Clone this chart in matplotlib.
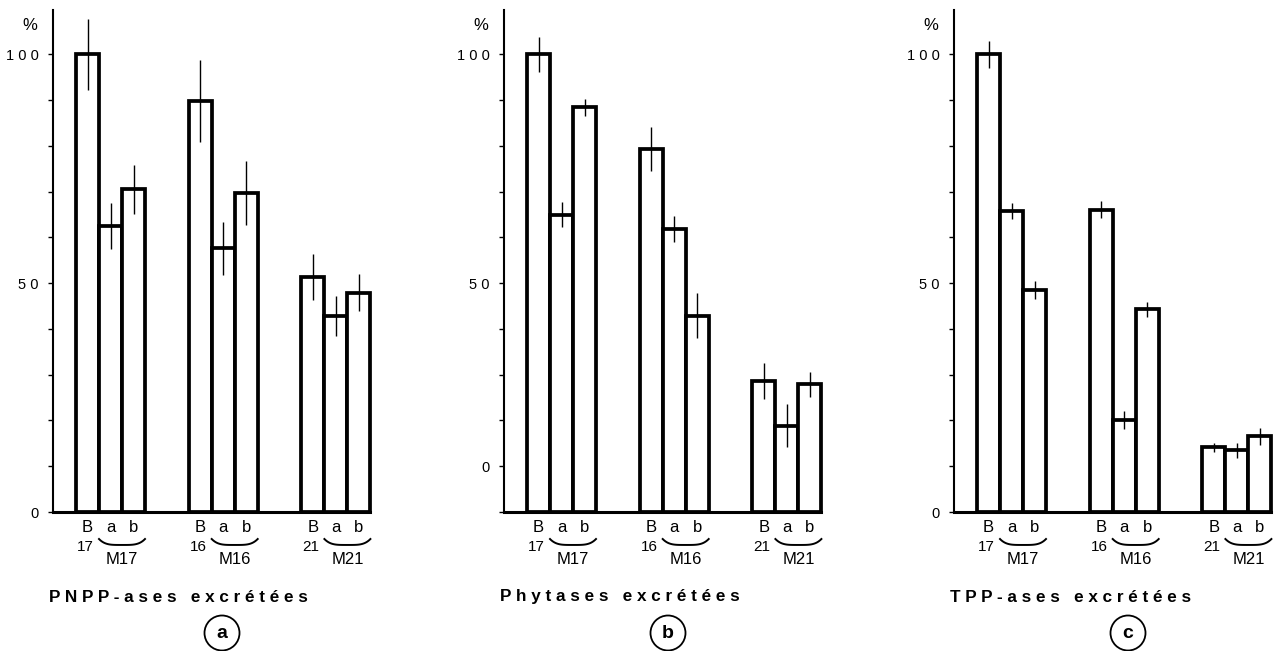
import numpy as np
import matplotlib
matplotlib.use("Agg")
import matplotlib.pyplot as plt
from matplotlib.patches import Ellipse

plt.rcParams['font.family'] = ['Liberation Sans', 'DejaVu Sans']

# data (% of the B17 control)
groups = ['17', '16', '21']
bars = ['B', 'a', 'b']

pnpp_vals = [100, 62.5, 70.5, 89.8, 57.6, 69.8, 51.4, 42.9, 47.9]
pnpp_err = [7.8, 5.0, 5.3, 9.0, 5.8, 7.0, 5.0, 4.4, 4.0]

phyt_vals = [100, 65.0, 88.4, 79.3, 61.8, 42.9, 28.6, 18.9, 27.9]
phyt_err = [3.9, 2.8, 1.9, 4.8, 2.9, 4.9, 4.0, 4.8, 2.8]

tpp_vals = [100, 65.8, 48.5, 66.1, 20.1, 44.3, 14.1, 13.5, 16.5]
tpp_err = [2.9, 1.8, 1.9, 1.8, 1.9, 1.6, 1.0, 1.6, 1.9]

# tick labels (panel b has its "0" written at the first tick above the base)
labels_std = {0: '0', 50: '5 0', 100: '1 0 0'}
labels_phyt = {10: '0', 50: '5 0', 100: '1 0 0'}

W, H = 1282, 651
fig = plt.figure(figsize=(W / 100, H / 100), dpi=100)
PT = 0.72  # points per pixel at dpi 100


def panel(left, vals, errs, labels, title, letter, circ_dx):
    ax = fig.add_axes([left / W, 139 / H, 317.4 / W, 502 / H])
    xs = [1.5 + g * 4.9 + k for g in range(len(groups)) for k in range(len(bars))]
    bc = ax.bar(xs, vals, width=1.0, color='white', edgecolor='black',
                linewidth=2.7, zorder=2)
    for p in bc:
        p.set_clip_on(False)
    ax.errorbar(xs, vals, yerr=errs, fmt='none', ecolor='black',
                elinewidth=1.0, capsize=0, zorder=3)
    ax.set_xlim(0, 13.8)
    ax.set_ylim(0, 109.7)
    ax.spines['top'].set_visible(False)
    ax.spines['right'].set_visible(False)
    ax.spines['left'].set_linewidth(1.5)
    ax.spines['bottom'].set_linewidth(2.2)
    ax.set_xticks([])
    ticks = np.arange(0, 101, 10)
    ax.set_yticks(ticks)
    ax.set_yticklabels([labels.get(t, '') for t in ticks], fontsize=10.5)
    ax.tick_params(axis='y', length=3.6, width=1.0, pad=6.5)
    ax.annotate('%', xy=(0, 1), xycoords='axes fraction',
                xytext=(-23 * PT, -15 * PT), textcoords='offset points',
                ha='center', va='center', fontsize=12)

    for g, name in enumerate(groups):
        xb, xa, xbb = xs[3 * g], xs[3 * g + 1], xs[3 * g + 2]
        for x, lab in zip((xb, xa, xbb), bars):
            ax.annotate(lab, xy=(x, 0), xytext=(0, -16 * PT),
                        textcoords='offset points', ha='center', va='center',
                        fontsize=12)
        ax.annotate(name, xy=(xb, 0), xytext=(-2 * PT, -35 * PT),
                    textcoords='offset points', ha='center', va='center',
                    fontsize=11)
        ax.annotate('M' + name, xy=((xa + xbb) / 2, 0), xytext=(0, -48 * PT),
                    textcoords='offset points', ha='center', va='center',
                    fontsize=12)
        t = np.linspace(-1, 1, 60)
        bx = (xa + xbb) / 2 + t * (xbb - xa + 1) / 2
        by = -7.2 + 1.3 * t ** 4
        ax.plot(bx, by, color='black', lw=1.4, clip_on=False)

    fig.text((left - 4) / W, 1 - 597 / H, title, ha='left', va='center',
             fontsize=12.3, fontweight='bold')
    cx, cy = left + circ_dx, 633
    fig.patches.append(Ellipse((cx / W, 1 - cy / H), 35 / W, 35 / H,
                               transform=fig.transFigure, fill=False,
                               ec='black', lw=1.3))
    fig.text(cx / W, 1 - cy / H, letter, ha='center', va='center',
             fontsize=14, fontweight='bold')
    return ax


panel(53, pnpp_vals, pnpp_err, labels_std,
      'P N P P - a s e s   e x c r é t é e s', 'a', 169)
panel(504, phyt_vals, phyt_err, labels_phyt,
      'P h y t a s e s   e x c r é t é e s', 'b', 164)
panel(954, tpp_vals, tpp_err, labels_std,
      'T P P - a s e s   e x c r é t é e s', 'c', 174)

fig.savefig('out.png', dpi=100)
